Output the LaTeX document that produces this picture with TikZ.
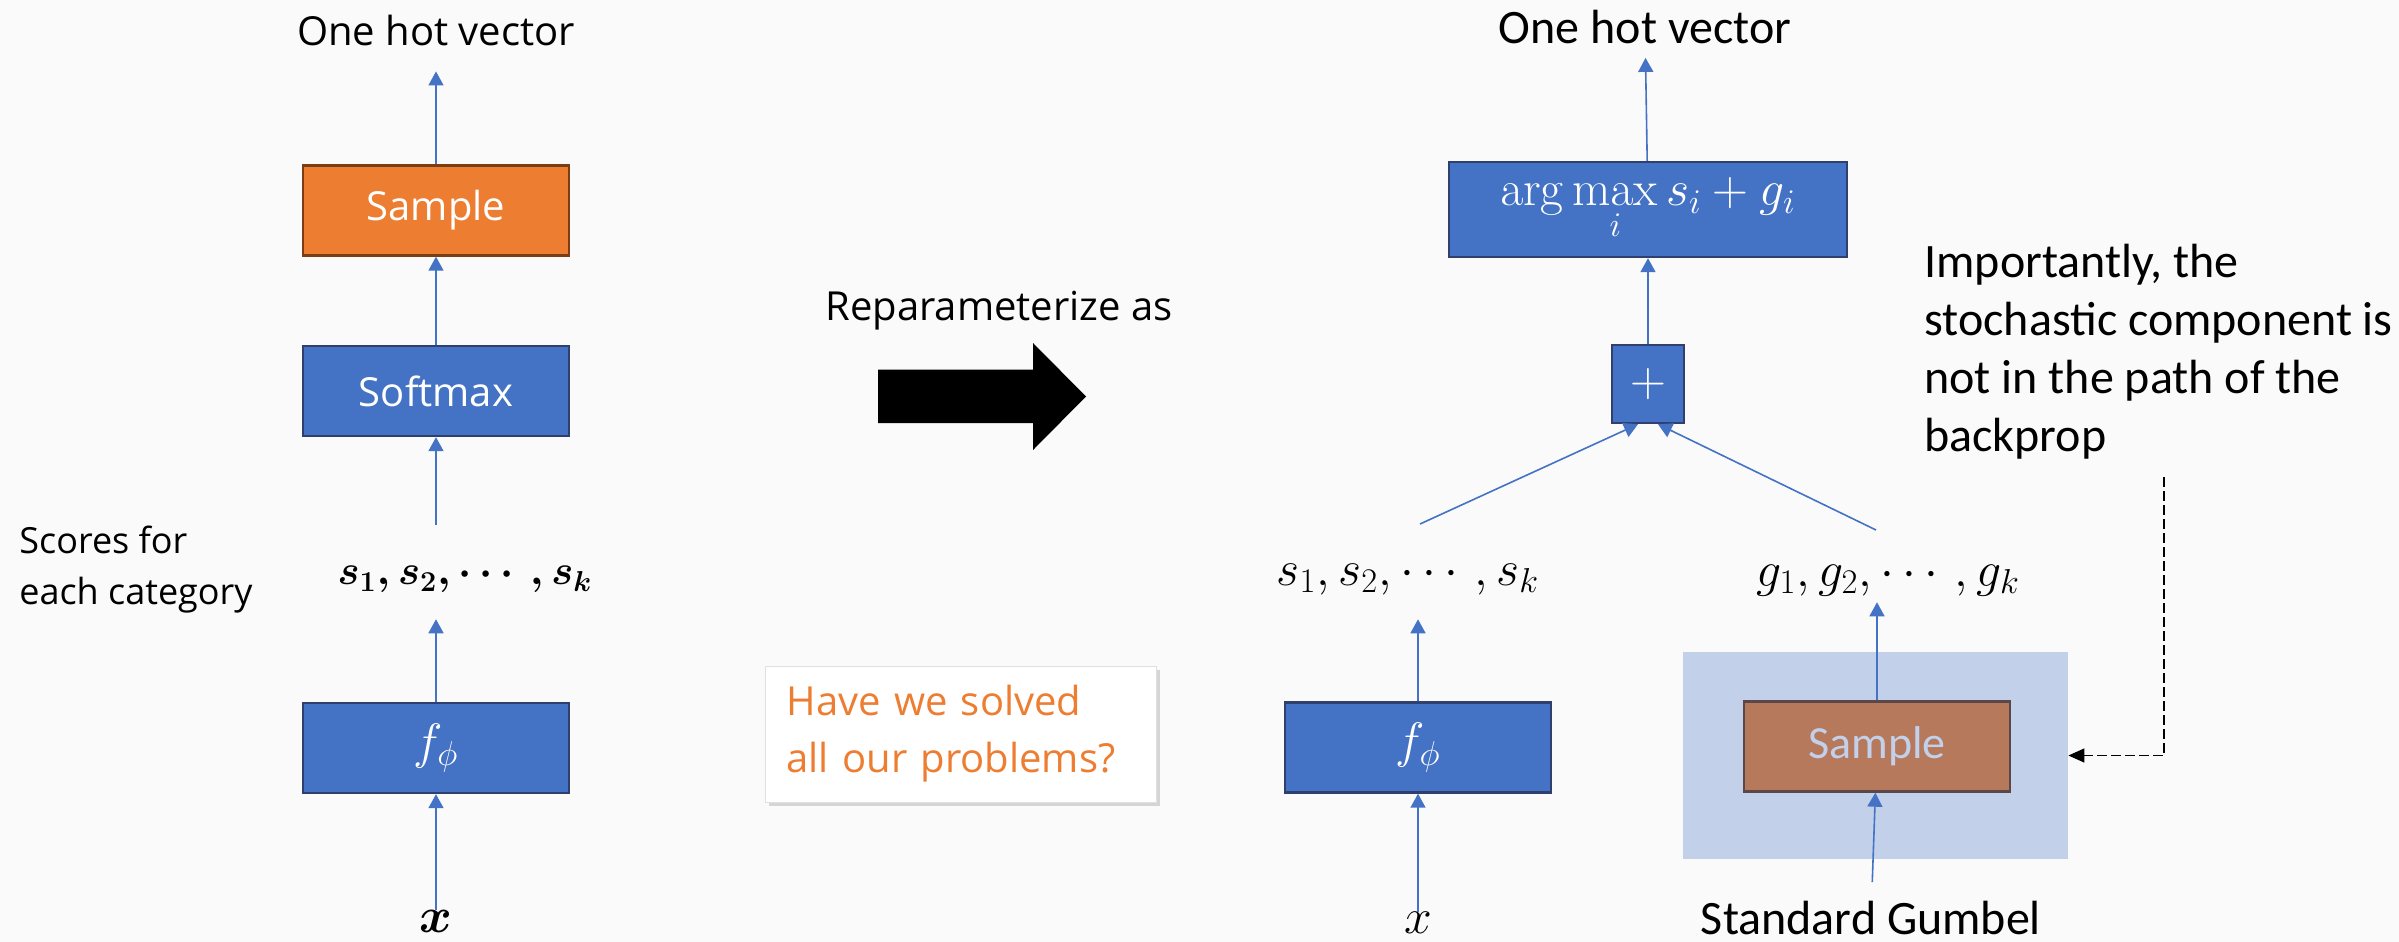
\documentclass[tikz,border=0pt]{standalone}
\usepackage{amsmath}
\usepackage[no-math]{fontspec}
\setmainfont{Open Sans}
\newfontfamily\calib{Carlito}
\usetikzlibrary{arrows.meta,shadows}
\definecolor{bgcol}{HTML}{FAFAFA}
\definecolor{boxblue}{HTML}{4472C4}
\definecolor{boxline}{HTML}{2F3F6E}
\definecolor{boxorange}{HTML}{ED7D31}
\definecolor{orangeline}{HTML}{7A3D14}
\definecolor{gumbelbg}{HTML}{C2D0EA}
\definecolor{gumbelbox}{HTML}{B7795C}
\definecolor{gumbelline}{HTML}{5B4747}
\begin{document}
\begin{tikzpicture}[x=0.5pt,y=-0.5pt,
  blk/.style={draw=boxline, line width=1.2pt, fill=boxblue, text=white, minimum width=133pt, minimum height=45pt, inner sep=0pt},
  orangeblk/.style={blk, draw=orangeline, fill=boxorange},
  gumbelblk/.style={blk, draw=gumbelline, fill=gumbelbox, text=gumbelbg, font=\calib\fontsize{23}{28}\selectfont},
  arr/.style={-{Triangle[width=7.5pt,length=7pt]}, draw=boxblue, line width=0.8pt},
  lbl/.style={font=\fontsize{20}{24}\selectfont},
  lblc/.style={font=\calib\fontsize{24}{29}\selectfont},
  mth/.style={font=\fontsize{25}{28}\selectfont, inner sep=0pt},
  qbox/.style={fill=white, draw=black!12, minimum width=195.5pt, minimum height=68pt, text width=174pt, inner xsep=10.5pt, align=left, text=boxorange, font=\fontsize{20}{28.5}\selectfont, drop shadow={opacity=0.3, shadow xshift=2pt, shadow yshift=-2pt}},
]
\useasboundingbox[fill=bgcol] (0,0) rectangle (2399,942);

% before: sample from the softmax
\node[lbl] (oneL) at (436,31) {One hot vector};
\node[orangeblk] (sampL) at (436,210.5) {\fontsize{20}{24}\selectfont Sample};
\node[blk] (softL) at (436,391) {\fontsize{20}{24}\selectfont Softmax};
\node[mth, font=\fontsize{21.5}{26}\selectfont] (sL) at (465,579) {$\boldsymbol{s_1, s_2, \cdots, s_k}$};
\node[blk] (fL) at (436,748) {\fontsize{25}{28}\selectfont$f_\phi$};
\node[mth] (xL) at (436,921) {$\boldsymbol{x}$};
\node[anchor=west, align=left, inner sep=0pt, font=\fontsize{18}{25.5}\selectfont] (scores) at (19,570) {Scores for\\each category};
\draw[arr] (xL) -- (fL);
\draw[arr, shorten >=13pt] (fL) -- (fL |- sL.south);
\draw[arr, shorten <=20pt] (softL |- sL.north) -- (softL);
\draw[arr] (softL) -- (sampL);
\draw[arr, shorten >=9pt] (sampL) -- (oneL);

% middle
\node[lbl] (rep) at (999,311) {Reparameterize as};
\fill (878,369.5) -- (1033,369.5) -- (1033,343) -- (1086,396.5) -- (1033,450) -- (1033,423) -- (878,423) -- cycle;
\node[qbox] (q) at (960.5,734) {Have we solved\\all our problems?};

% after: gumbel-max trick
\node[lblc] (oneR) at (1645,27) {One hot vector};
\node[blk, minimum width=199pt, minimum height=47.5pt] (amax) at (1648,209.5) {\fontsize{26}{28}\selectfont$\arg\max\limits_i s_i+g_i$};
\node[blk, minimum width=36pt, minimum height=39pt] (plus) at (1648,384) {\fontsize{25}{28}\selectfont$+$};
\node[mth] (sR) at (1408,579) {$s_1, s_2, \cdots, s_k$};
\node[mth] (gR) at (1888,580) {$g_1, g_2, \cdots, g_k$};
\node[blk] (fR) at (1418,747.5) {\fontsize{25}{28}\selectfont$f_\phi$};
\node[mth] (xR) at (1418,923) {$x$};
\node[fill=gumbelbg, minimum width=192.5pt, minimum height=103.5pt, inner sep=0pt] (gbg) at (1875.5,755.5) {};
\node[gumbelblk] (sampR) at (1877,746.5) {Sample};
\node[lblc] (stdG) at (1871,918) {Standard Gumbel};
\node[lblc, anchor=west, align=left, inner sep=0pt] (note) at (1924,352) {Importantly, the\\stochastic component is\\not in the path of the\\backprop};
\coordinate (sRtop) at (1420,524);
\coordinate (gRtop) at (1876,530);
\coordinate (noteend) at (2164,477);
\draw[arr] (xR) -- (fR);
\draw[arr, shorten >=12pt] (fR) -- (fR |- sR.south);
\draw[arr] (sRtop) -- ([xshift=-5pt]plus.south);
\draw[arr] (gRtop) -- ([xshift=5pt]plus.south);
\draw[arr] (plus) -- (amax);
\draw[arr, shorten >=3.5pt] (amax) -- (oneR);
\draw[arr, shorten <=6pt] (stdG) -- (sampR);
\draw[arr, shorten >=3pt] (sampR) -- (sampR |- gR.south);
\draw[dash pattern=on 5pt off 2pt, line width=0.7pt, -{Triangle[width=7pt,length=8pt]}] (noteend) |- (gbg.east);
\end{tikzpicture}
\end{document}
